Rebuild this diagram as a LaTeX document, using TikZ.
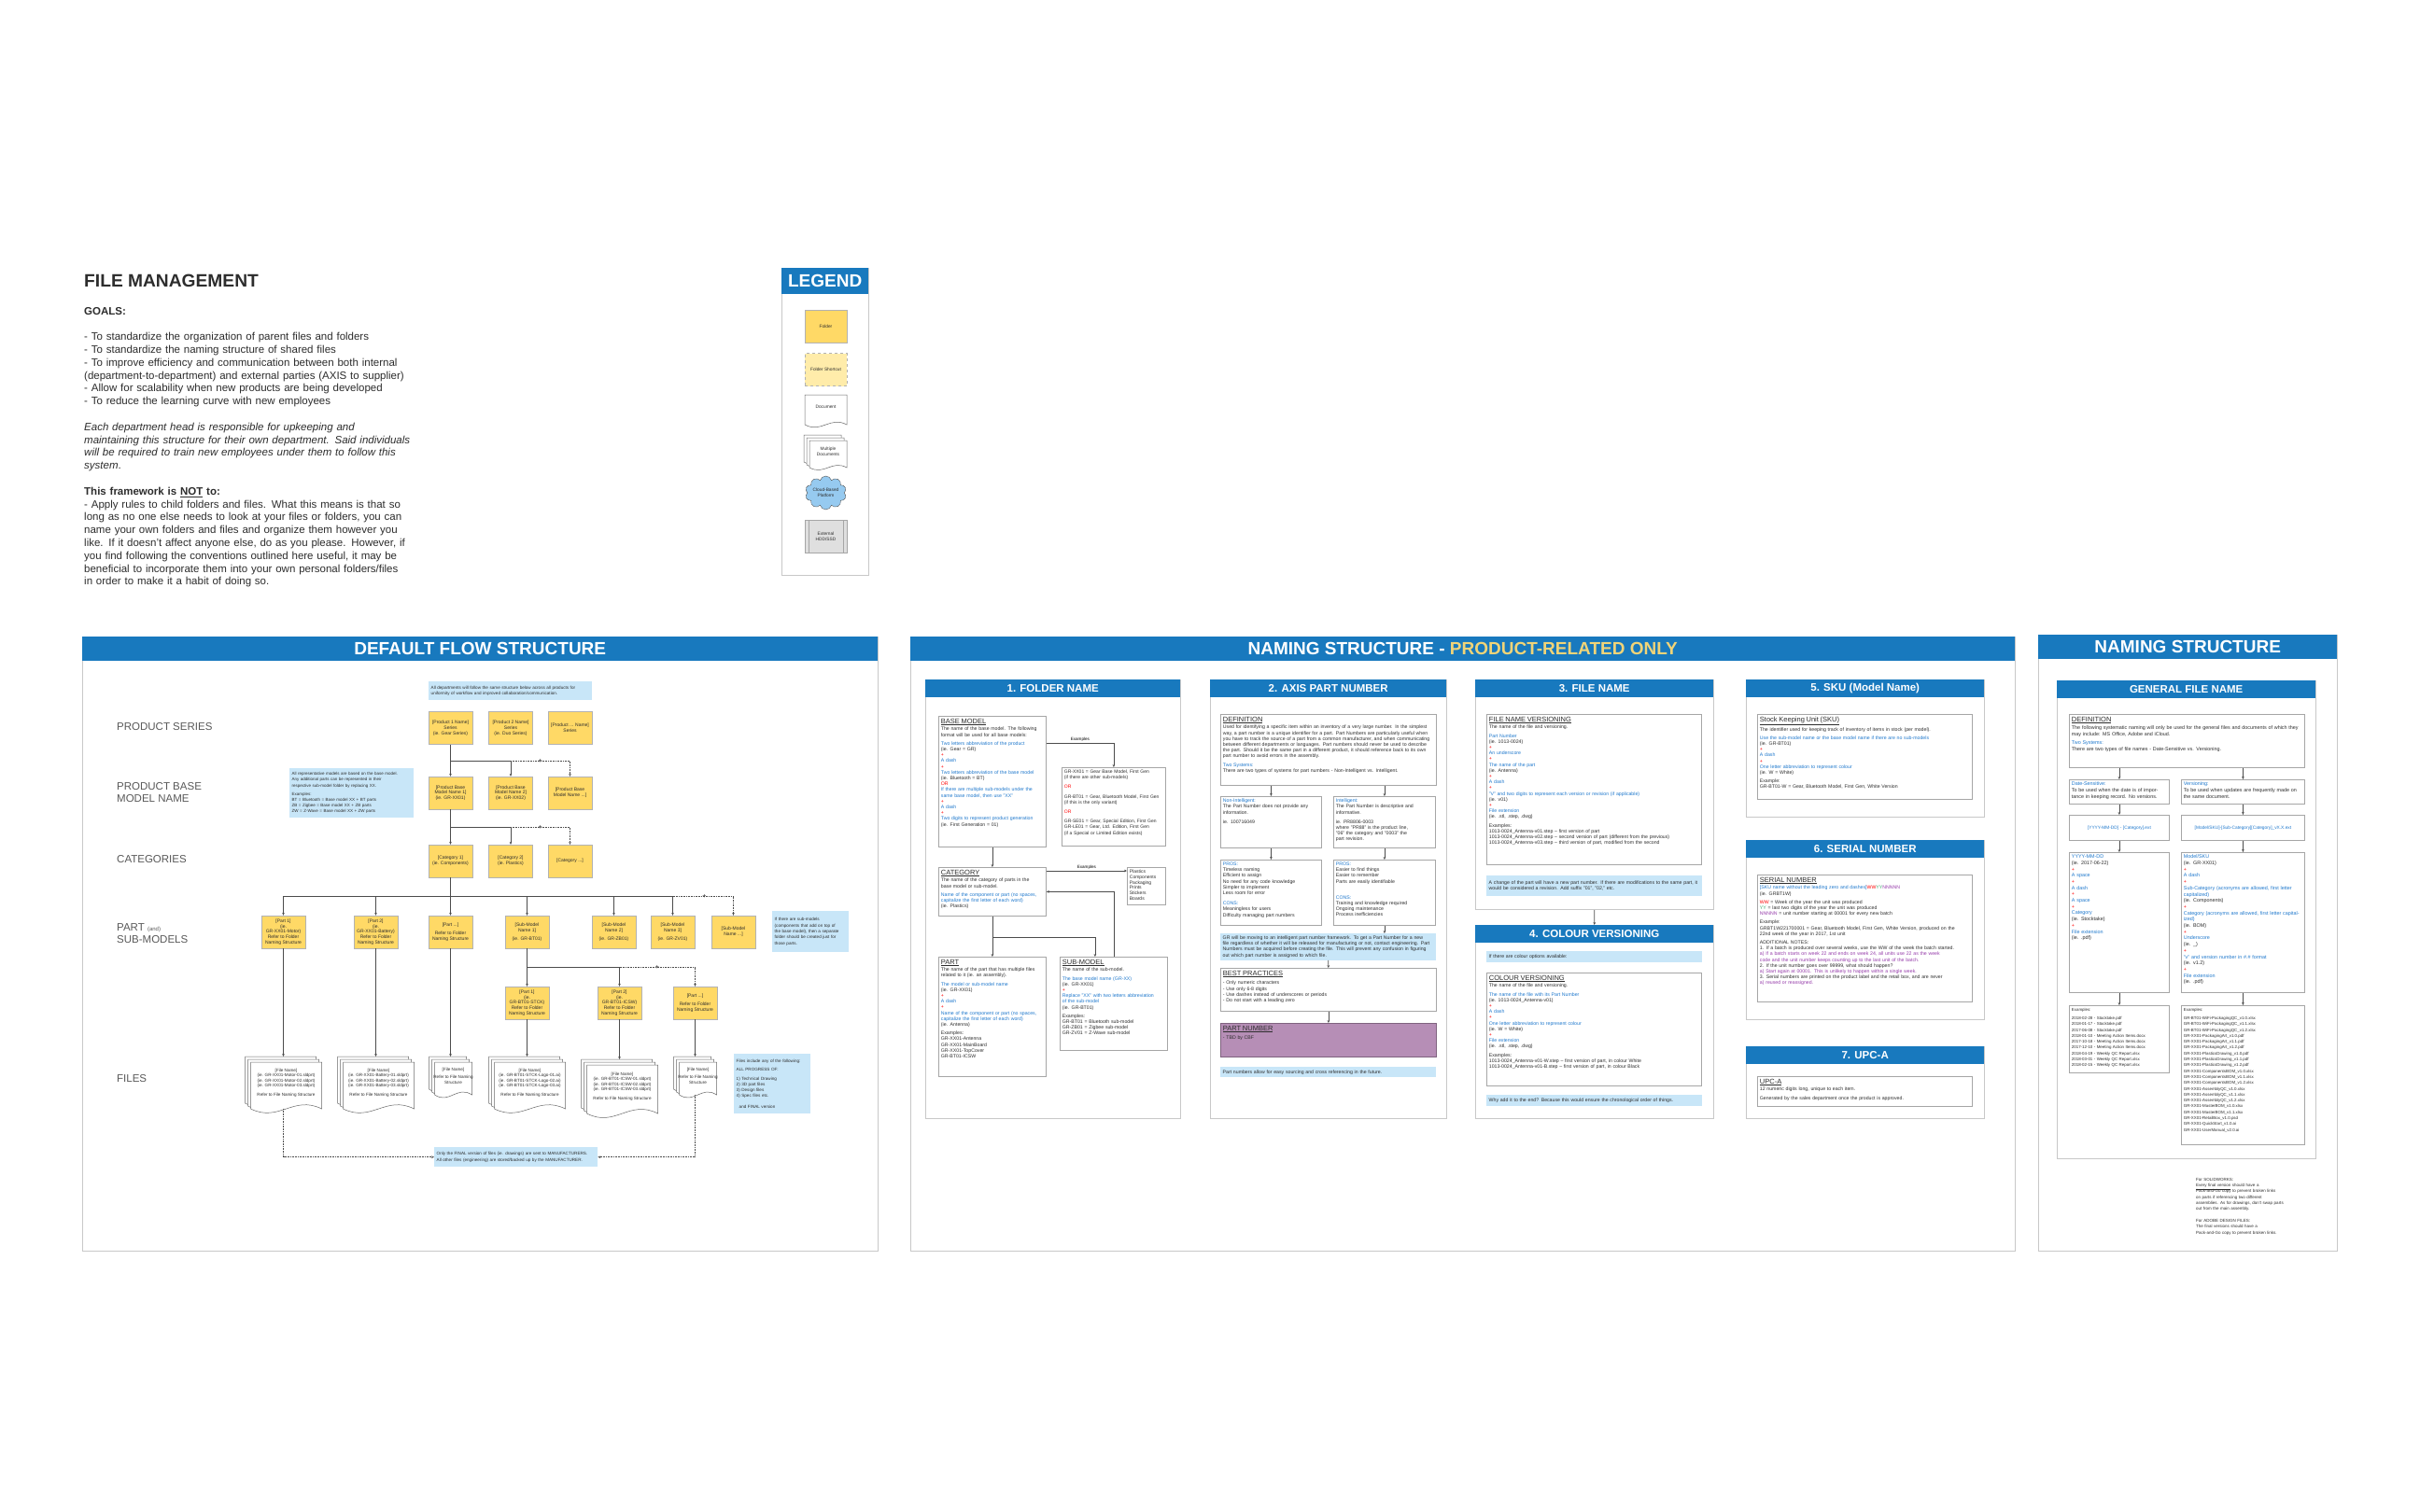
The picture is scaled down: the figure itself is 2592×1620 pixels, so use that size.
\documentclass[tikz,border=0pt]{standalone}
\usepackage{fontspec}
\setmainfont{Liberation Sans}
\usetikzlibrary{arrows.meta, positioning, calc, shapes.symbols}

\definecolor{hdrblue}{RGB}{24,121,190}
\definecolor{noteblue}{RGB}{200,230,248}
\definecolor{folderyellow}{RGB}{255,217,102}
\definecolor{shortyellow}{RGB}{255,236,170}
\definecolor{cloudblue}{RGB}{150,202,240}
\definecolor{txtblue}{RGB}{30,120,205}
\definecolor{txtgreen}{RGB}{60,170,110}
\definecolor{txtpurple}{RGB}{150,60,170}
\definecolor{titleyellow}{RGB}{240,212,120}
\definecolor{pnpurple}{RGB}{182,142,182}
\definecolor{framegray}{RGB}{200,200,200}
\definecolor{darktext}{RGB}{45,45,45}

\newcommand{\ft}{\fontsize{5.2}{6.2}\selectfont}
\newcommand{\ftr}{\fontsize{5.4}{6.7}\selectfont}
\newcommand{\ftn}{\fontsize{4.6}{6.3}\selectfont}
\newcommand{\tblue}[1]{\textcolor{txtblue}{#1}}
\newcommand{\tred}[1]{\textcolor{red}{#1}}
\newcommand{\tgreen}[1]{\textcolor{txtgreen}{#1}}
\newcommand{\tpurple}[1]{\textcolor{txtpurple}{#1}}
\newcommand{\boxhd}[1]{{\fontsize{7.5}{8}\selectfont\underline{#1}\par}\vspace{1.5pt}}
\newcommand{\topbox}[2]{\vbox to #1pt{#2\vfil}}

% document outline: x, y (top left), width, height
\newcommand{\docshape}[4]{%
  \draw[docline] (#1,#2) -- (#1+#3,#2) -- (#1+#3,#2+#4)
    .. controls +(-0.4*#3,-0.3*#4) and +(0.4*#3,0.3*#4) .. (#1,#2+#4) -- cycle;}
% stack of documents: name, centre x, top y, width, height
\newcommand{\multidoc}[5]{%
  \docshape{#2-3-#4/2}{#3}{#4}{#5}
  \docshape{#2-#4/2}{#3+3}{#4}{#5}
  \docshape{#2+3-#4/2}{#3+6}{#4}{#5}
  \coordinate (#1-top) at (#2,#3);
  \coordinate (#1-bot) at (#2,#3+#5+6);
  \coordinate (#1-mid) at (#2+3,#3+3+#5/2);}

\tikzset{
  panel/.style={draw=framegray, fill=white, line width=1pt, anchor=north west, inner sep=0pt},
  bandhead/.style={fill=hdrblue, text=white, anchor=north west, inner sep=0pt, font=\bfseries\fontsize{19}{19}\selectfont},
  subhead/.style={fill=hdrblue, text=white, anchor=north west, inner sep=0pt, minimum height=19pt, font=\bfseries\fontsize{11.5}{11.5}\selectfont},
  infobox/.style={draw=gray!70, fill=white, line width=0.8pt, anchor=north west, align=left, inner sep=2.5pt, font=\ft, text=darktext},
  note/.style={fill=noteblue, anchor=north west, align=left, inner sep=2.5pt, font=\ft, text=darktext},
  folder/.style={draw=gray!60, fill=folderyellow, minimum width=47pt, minimum height=35pt, inner sep=1pt, align=center, text=darktext, font=\fontsize{5}{5.8}\selectfont},
  shortcut/.style={folder, fill=shortyellow, dashed},
  rowlabel/.style={anchor=west, align=left, inner sep=0pt, text=black!65, font=\fontsize{11.5}{13.5}\selectfont},
  link/.style={draw=black!70, line width=0.6pt, -{Stealth[length=3pt,width=2.6pt]}},
  more/.style={densely dotted},
  docline/.style={draw=black!60, fill=white, line width=0.5pt},
  doctext/.style={align=center, inner sep=0pt, text=darktext, font=\fontsize{4.6}{5.6}\selectfont},
  plus/.style={inner sep=0pt, text=darktext, font=\fontsize{7}{7}\selectfont},
  legendtext/.style={font=\fontsize{4.8}{5.6}\selectfont, align=center, text=darktext}
}

\begin{document}
\begin{tikzpicture}[x=1pt, y=-1pt]
\fill[white] (0,0) rectangle (2592,1620);
\useasboundingbox (0,0) rectangle (2592,1620);

% introduction
\node[anchor=base west, inner sep=0pt, text=darktext, font=\bfseries\fontsize{19.2}{20}\selectfont] (fmtitle) at (90,307) {FILE MANAGEMENT};
\node[anchor=base west, inner sep=0pt, text width=400pt, align=left, text=darktext, font=\fontsize{11.5}{13.8}\selectfont] (fmtext) at (90,337) {\textbf{GOALS:}\\[13.8pt]
- To standardize the organization of parent files and folders\\
- To standardize the naming structure of shared files\\
- To improve efficiency and communication between both internal\\
(department-to-department) and external parties (AXIS to supplier)\\
- Allow for scalability when new products are being developed\\
- To reduce the learning curve with new employees\\[13.8pt]
\textit{Each department head is responsible for upkeeping and}\\
\textit{maintaining this structure for their own department. Said individuals}\\
\textit{will be required to train new employees under them to follow this}\\
\textit{system}.\\[13.8pt]
\textbf{This framework is \underline{NOT} to:}\\
- Apply rules to child folders and files. What this means is that so\\
long as no one else needs to look at your files or folders, you can\\
name your own folders and files and organize them however you\\
like. If it doesn't affect anyone else, do as you please. However, if\\
you find following the conventions outlined here useful, it may be\\
beneficial to incorporate them into your own personal folders/files\\
in order to make it a habit of doing so.};

% legend
\node[panel, minimum width=93pt, minimum height=329pt] (legend) at (837,287) {};
\node[bandhead, minimum width=93pt, minimum height=28pt] (legendhead) at (837,287) {LEGEND};
\node[folder, minimum width=45pt, legendtext] (lgfolder) at (884.5,350) {Folder};
\node[shortcut, minimum width=45pt, legendtext] (lgshort) at (884.5,396) {Folder Shortcut};
\docshape{862}{423}{45}{32}
\node[legendtext] (lgdoc) at (884.5,436) {Document};
\multidoc{lgm}{884}{466}{40}{29}
\node[legendtext] (lgmulti) at (lgm-mid) {Multiple\\Documents};
\node[cloud, cloud puffs=10, aspect=1.4, draw=gray!70!black, fill=cloudblue, minimum width=44pt, minimum height=32pt, inner sep=0pt, legendtext] (lgcloud) at (884.5,528) {Cloud-Based\\Platform};
\node[draw=gray!70, fill=gray!25, minimum width=45pt, minimum height=35pt, inner sep=0pt, legendtext] (lgext) at (884.5,575) {External\\HDD/SSD};
\draw[gray!70] ($(lgext.north west)+(4,0)$) -- ($(lgext.south west)+(4,0)$);
\draw[gray!70] ($(lgext.north east)+(-4,0)$) -- ($(lgext.south east)+(-4,0)$);

% default flow structure
\node[panel, minimum width=852pt, minimum height=658pt] (flowpanel) at (88,682) {};
\node[bandhead, minimum width=852pt, minimum height=26pt] (flowhead) at (88,682) {DEFAULT FLOW STRUCTURE};

\node[rowlabel] (lbseries) at (125,779) {PRODUCT SERIES};
\node[rowlabel] (lbbase) at (125,849) {PRODUCT BASE\\MODEL NAME};
\node[rowlabel] (lbcat) at (125,921) {CATEGORIES};
\node[rowlabel] (lbpart) at (125,1000) {PART {\fontsize{6}{6}\selectfont(and)}\\SUB-MODELS};
\node[rowlabel] (lbfiles) at (125,1156) {FILES};

\node[note, text width=170pt, minimum height=20pt, font=\ftn] (topnote) at (459,730) {All departments will follow the same structure below across all products for\\ uniformity of workflow and improved collaboration/communication.};
\node[note, text width=128pt, minimum height=53pt, font=\fontsize{4.5}{6.2}\selectfont] (leftnote) at (310,823) {All representative models are based on the base model.\\ Any additional parts can be represented in their\\ respective sub-model folder by replacing XX.\\[3pt] Examples:\\ BT = Bluetooth = Base model XX + BT parts\\ ZB = Zigbee = Base model XX + ZB parts\\ ZW = Z-Wave = Base model XX + ZW parts};
\node[note, text width=77pt, minimum height=44pt, font=\ftn] (rightnote) at (827,976) {If there are sub-models\\ (components that add on top of\\ the base model), then a separate\\ folder should be created just for\\ those parts.};
\node[note, text width=77pt, minimum height=64pt, font=\ftn] (filenote) at (786,1129) {Files include any of the following:\\[3pt] ALL PROGRESS OF:\\[3pt] 1) Technical Drawing\\ 2) 3D part files\\ 3) Design files\\ 4) Spec files etc.\\[5pt] \hspace*{3pt}and FINAL version};
\node[note, text width=170pt, minimum height=21pt, font=\ftn] (bottomnote) at (465,1229) {Only the FINAL version of files (ie. drawings) are sent to MANUFACTURERS.\\ All other files (engineering) are stored/backed up by the MANUFACTURER.};

\node[folder] (ps1) at (482.5,780) {[Product 1 Name]\\Series\\(ie. Gear Series)};
\node[folder] (ps2) at (547,780) {[Product 2 Name]\\Series\\(ie. Duo Series)};
\node[folder] (ps3) at (610.5,780) {[Product ... Name]\\Series};
\node[folder] (bm1) at (482.5,849.5) {[Product Base\\Model Name 1]\\(ie. GR-XX01)};
\node[folder] (bm2) at (547,849.5) {[Product Base\\Model Name 2]\\(ie. GR-XX02)};
\node[folder] (bm3) at (610.5,849.5) {[Product Base\\Model Name ...]};
\node[folder] (ct1) at (482.5,922.5) {[Category 1]\\(ie. Components)};
\node[folder] (ct2) at (547,922.5) {[Category 2]\\(ie. Plastics)};
\node[folder] (ct3) at (610.5,922.5) {[Category ...]};
\node[folder] (pt1) at (303.5,998.5) {[Part 1]\\(ie.\\GR-XX01-Motor)\\Refer to Folder\\Naming Structure};
\node[folder] (pt2) at (402.5,998.5) {[Part 2]\\(ie.\\GR-XX01-Battery)\\Refer to Folder\\Naming Structure};
\node[folder] (pt3) at (482.5,998.5) {[Part ...]\\[3pt]Refer to Folder\\Naming Structure};
\node[folder] (pt4) at (564.5,998.5) {[Sub-Model\\Name 1]\\[3pt](ie. GR-BT01)};
\node[folder] (pt5) at (657.5,998.5) {[Sub-Model\\Name 2]\\[3pt](ie. GR-ZB01)};
\node[folder] (pt6) at (720.5,998.5) {[Sub-Model\\Name 3]\\[3pt](ie. GR-ZV01)};
\node[folder] (pt7) at (785.5,998.5) {[Sub-Model\\Name ...]};
\node[folder] (sp1) at (564.5,1074.5) {[Part 1]\\(ie.\\GR-BT01-STCK)\\Refer to Folder\\Naming Structure};
\node[folder] (sp2) at (663.5,1074.5) {[Part 2]\\(ie.\\GR-BT01-ICSW)\\Refer to Folder\\Naming Structure};
\node[folder] (sp3) at (744.5,1074.5) {[Part ...]\\[3pt]Refer to Folder\\Naming Structure};

\coordinate (j1) at (482.5,815);
\coordinate (j2) at (482.5,886);
\coordinate (j3) at (482.5,960);
\coordinate (j4) at (564.5,1036);
\draw[link] (ps1) -- (bm1);
\draw[link] (j1) -| (bm2);
\draw[link, more] (j1 -| bm2) -| (bm3) node[pos=0.25, plus] {+};
\draw[link] (bm1) -- (ct1);
\draw[link] (j2) -| (ct2);
\draw[link, more] (j2 -| ct2) -| (ct3) node[pos=0.25, plus] {+};
\draw[link] (ct1) -- (pt3);
\foreach \p in {pt1,pt2,pt4,pt5,pt6}
  \draw[link] (j3) -| (\p);
\draw[link, more] (j3 -| pt6) -| (pt7) node[pos=0.26, plus] {+};
\draw[link] (pt4) -- (sp1);
\draw[link] (j4) -| (sp2);
\draw[link, more] (j4 -| sp2) -| (sp3) node[pos=0.25, plus] {+};

\multidoc{f1}{303.5}{1132}{76}{50}
\multidoc{f2}{402.5}{1132}{76}{50}
\multidoc{f3}{482.5}{1132}{40}{35}
\multidoc{f4}{564.5}{1132}{76}{50}
\multidoc{f5}{663.5}{1135}{76}{52}
\multidoc{f6}{744.5}{1132}{40}{35}
\node[doctext] (file1) at (f1-mid) {[File Name]\\(ie. GR-XX01-Motor-01.sldprt)\\(ie. GR-XX01-Motor-02.sldprt)\\(ie. GR-XX01-Motor-03.sldprt)\\[4pt]Refer to File Naming Structure};
\node[doctext] (file2) at (f2-mid) {[File Name]\\(ie. GR-XX01-Battery-01.sldprt)\\(ie. GR-XX01-Battery-02.sldprt)\\(ie. GR-XX01-Battery-03.sldprt)\\[4pt]Refer to File Naming Structure};
\node[doctext] (file3) at (f3-mid) {[File Name]\\[3pt]Refer to File Naming\\Structure};
\node[doctext] (file4) at (f4-mid) {[File Name]\\(ie. GR-BT01-STCK-Logo-01.ai)\\(ie. GR-BT01-STCK-Logo-02.ai)\\(ie. GR-BT01-STCK-Logo-03.ai)\\[4pt]Refer to File Naming Structure};
\node[doctext] (file5) at (f5-mid) {[File Name]\\(ie. GR-BT01-ICSW-01.sldprt)\\(ie. GR-BT01-ICSW-02.sldprt)\\(ie. GR-BT01-ICSW-03.sldprt)\\[4pt]Refer to File Naming Structure};
\node[doctext] (file6) at (f6-mid) {[File Name]\\[3pt]Refer to File Naming\\Structure};
\foreach \p/\f in {pt1/f1,pt2/f2,pt3/f3,sp1/f4,sp2/f5,sp3/f6}
  \draw[link] (\p) -- (\f-top);
\draw[link, more] (f1-bot) |- (bottomnote.west);
\draw[link, more] (f6-bot) |- (bottomnote.east);

% naming structure, product related
\node[panel, minimum width=1183pt, minimum height=658pt] (namepanel) at (975,682) {};
\node[bandhead, minimum width=1183pt, minimum height=26pt] (namehead) at (975,682) {NAMING STRUCTURE - \textcolor{titleyellow}{PRODUCT-RELATED ONLY}};

\node[panel, minimum width=273pt, minimum height=470pt] (p1) at (991,728) {};
\node[subhead, minimum width=273pt] (p1h) at (991,728) {1. FOLDER NAME};
\node[panel, minimum width=253pt, minimum height=470pt] (p2) at (1296,728) {};
\node[subhead, minimum width=253pt] (p2h) at (1296,728) {2. AXIS PART NUMBER};
\node[panel, minimum width=255pt, minimum height=246pt] (p3) at (1580,728) {};
\node[subhead, minimum width=255pt] (p3h) at (1580,728) {3. FILE NAME};
\node[panel, minimum width=255pt, minimum height=207pt] (p4) at (1580,991) {};
\node[subhead, minimum width=255pt] (p4h) at (1580,991) {4. COLOUR VERSIONING};
\node[panel, minimum width=255pt, minimum height=147pt] (p5) at (1870,728) {};
\node[subhead, minimum width=255pt] (p5h) at (1870,728) {5. SKU (Model Name)};
\node[panel, minimum width=255pt, minimum height=192pt] (p6) at (1870,900) {};
\node[subhead, minimum width=255pt] (p6h) at (1870,900) {6. SERIAL NUMBER};
\node[panel, minimum width=255pt, minimum height=77pt] (p7) at (1870,1121) {};
\node[subhead, minimum width=255pt] (p7h) at (1870,1121) {7. UPC-A};
\draw[link] (p3) -- (p4h);

% 1. folder name
\node[infobox, text width=110pt] (basemodel) at (1005,767) {\topbox{135}{\boxhd{BASE MODEL}
The name of the base model. The following\\ format will be used for all base models:\\[3pt]
\tblue{Two letters abbreviation of the product}\\ (ie. Gear = GR)\\ \tred{+}\\ \tblue{A dash}\\ \tred{+}\\
\tblue{Two letters abbreviation of the base model}\\ (ie. Bluetooth = BT)\\ \tred{OR}\\
\tblue{If there are multiple sub-models under the}\\ \tblue{same base model, then use "XX"}\\ \tred{+}\\ \tblue{A dash}\\ \tred{+}\\
\tblue{Two digits to represent product generation}\\ (ie. First Generation = 01)}};
\node[infobox, text width=106pt, font=\fontsize{5}{6.2}\selectfont] (ex1) at (1137,822) {\topbox{79}{GR-XX01 = Gear Base Model, First Gen\\ (if there are other sub-models)\\[4pt] \tred{OR}\\[4pt]
GR-BT01 = Gear, Bluetooth Model, First Gen\\ (if this is the only variant)\\[4pt] \tred{OR}\\[4pt]
GR-SE01 = Gear, Special Edition, First Gen\\ GR-LE01 = Gear, Ltd. Edition, First Gen\\ (if a Special or Limited Edition exists)}};
\node[infobox, text width=110pt] (category) at (1005,929) {\topbox{47}{\boxhd{CATEGORY}
The name of the category of parts in the\\ base model or sub-model.\\[3pt]
\tblue{Name of the component or part (no spaces,}\\ \tblue{capitalize the first letter of each word)}\\ (ie. Plastics)}};
\node[infobox, text width=36pt, font=\fontsize{5}{5.8}\selectfont] (catlist) at (1207,929) {\topbox{35}{Plastics\\ Components\\ Packaging\\ Prints\\ Stickers\\ Boards}};
\node[infobox, text width=110pt] (part) at (1005,1025) {\topbox{123}{\boxhd{PART}
The name of the part that has multiple files\\ related to it (ie. an assembly).\\[3pt]
\tblue{The model or sub-model name}\\ (ie. GR-XX01)\\ \tred{+}\\ \tblue{A dash}\\ \tred{+}\\
\tblue{Name of the component or part (no spaces,}\\ \tblue{capitalize the first letter of each word)}\\ (ie. Antenna)\\[3pt]
Examples:\\ GR-XX01-Antenna\\ GR-XX01-MainBoard\\ GR-XX01-TopCover\\ GR-BT01-ICSW}};
\node[infobox, text width=110pt] (submodel) at (1135,1025) {\topbox{95}{\boxhd{SUB-MODEL}
The name of the sub-model.\\[3pt]
\tblue{The base model name (GR-XX)}\\ (ie. GR-XX01)\\ \tred{+}\\
\tblue{Replace "XX" with two letters abbreviation}\\ \tblue{of the sub-model}\\ (ie. GR-BT01)\\[3pt]
Examples:\\ GR-BT01 = Bluetooth sub-model\\ GR-ZB01 = Zigbee sub-model\\ GR-ZV01 = Z-Wave sub-model}};
\draw[link] (basemodel) -- (category);
\draw[link] ($(basemodel.north east)+(0,29)$) -| (ex1.north) node[pos=0.25, above=0.3pt, inner sep=0.5pt, font=\ftn] {Examples};
\draw[link] ($(category.north east)+(0,4)$) -- ($(catlist.north west)+(0,4)$) node[midway, above=0.3pt, inner sep=0.5pt, font=\ftn] {Examples};
\draw[link] (submodel.north) |- (category.east);
\draw[link] (category.south) -- (part.north);
\draw[link] ($(category.south)+(0,22)$) -| ($(submodel.north)+(-20,0)$);

% 2. axis part number
\node[infobox, text width=226pt] (definition) at (1307,765) {\topbox{71}{\boxhd{DEFINITION}
Used for identifying a specific item within an inventory of a very large number. In the simplest way, a part number is a unique identifier for a part. Part Numbers are particularly useful when you have to track the source of a part from a common manufacturer, and when communicating between different departments or languages. Part numbers should never be used to describe the part. Should it be the same part in a different product, it should reference back to its own part number to avoid errors in the assembly.\\[3pt]
\tblue{Two Systems:}\\ There are two types of systems for part numbers - Non-Intelligent vs. Intelligent.}};
\node[infobox, text width=103pt] (nonint) at (1307,853) {\topbox{50}{\tblue{Non-Intelligent:}\\ The Part Number does not provide any\\ information.\\[4pt] ie. 100716049}};
\node[infobox, text width=104pt] (intel) at (1428,853) {\topbox{50}{\tblue{Intelligent:}\\ The Part Number is descriptive and\\ informative.\\[4pt] ie. PR8806-0003\\ where "PR88" is the product line,\\ "06" the category and "0003" the\\ part revision.}};
\node[infobox, text width=103pt] (pros1) at (1307,921) {\topbox{65}{\tblue{PROS:}\\ Timeless naming\\ Efficient to assign\\ No need for any code knowledge\\ Simpler to implement\\ Less room for error\\[5pt] \tblue{CONS:}\\ Meaningless for users\\ Difficulty managing part numbers}};
\node[infobox, text width=104pt] (pros2) at (1428,921) {\topbox{65}{\tblue{PROS:}\\ Easier to find things\\ Easier to remember\\ Parts are easily identifiable\\[11pt] \tblue{CONS:}\\ Training and knowledge required\\ Ongoing maintenance\\ Process inefficiencies}};
\node[note, text width=226pt, minimum height=27pt] (note2) at (1307,1000) {GR will be moving to an intelligent part number framework. To get a Part Number for a new file regardless of whether it will be released for manufacturing or not, contact engineering. Part Numbers must be acquired before creating the file. This will prevent any confusion in figuring out which part number is assigned to which file.};
\node[infobox, text width=226pt] (best) at (1307,1037) {\topbox{41}{\boxhd{BEST PRACTICES}\vspace{2pt}
- Only numeric characters\\ - Use only 6-8 digits\\ - Use dashes instead of underscores or periods\\ - Do not start with a leading zero}};
\node[infobox, text width=226pt, fill=pnpurple, draw=pnpurple!70!black] (pnum) at (1307,1096) {\topbox{31}{\boxhd{PART NUMBER}\vspace{2pt} - TBD by CBF}};
\node[note, text width=226pt, minimum height=11pt] (note3) at (1307,1143) {Part numbers allow for easy sourcing and cross referencing in the future.};
\draw[link] (nonint.north |- definition.south) -- (nonint);
\draw[link] (intel.north |- definition.south) -- (intel);
\draw[link] (nonint) -- (pros1);
\draw[link] (intel) -- (pros2);
\draw[link] (pros2.south) -- (pros2.south |- note2.north);
\draw[link] (note2) -- (best);
\draw[link] (best) -- (pnum);

% 3. file name
\node[infobox, text width=225pt] (fnv) at (1592,765) {\topbox{156}{\boxhd{FILE NAME VERSIONING}
The name of the file and versioning.\\[3pt]
\tblue{Part Number}\\ (ie. 1013-0024)\\ \tred{+}\\ \tblue{An underscore}\\ \tred{+}\\ \tblue{The name of the part}\\ (ie. Antenna)\\ \tred{+}\\ \tblue{A dash}\\ \tred{+}\\
\tblue{"V" and two digits to represent each version or revision (if applicable)}\\ (ie. v01)\\ \tred{+}\\
\tblue{File extension}\\ (ie. .stl, .step, .dwg)\\[3pt]
Examples:\\ 1013-0024\_Antenna-v01.step -- first version of part\\
1013-0024\_Antenna-v02.step -- second version of part (different from the previous)\\
1013-0024\_Antenna-v03.step -- third version of part, modified from the second}};
\node[note, text width=226pt, minimum height=22pt] (note4) at (1592,938) {A change of the part will have a new part number. If there are modifications to the same part, it would be considered a revision. Add suffix "01", "02," etc.};

% 4. colour versioning
\node[note, text width=226pt, minimum height=12pt] (note5) at (1592,1019) {If there are colour options available:};
\node[infobox, text width=225pt] (cv) at (1592,1042) {\topbox{116}{\boxhd{COLOUR VERSIONING}
The name of the file and versioning.\\[3pt]
\tblue{The name of the file with its Part Number}\\ (ie. 1013-0024\_Antenna-v01)\\ \tred{+}\\ \tblue{A dash}\\ \tred{+}\\
\tblue{One letter abbreviation to represent colour}\\ (ie. W = White)\\ \tred{+}\\ \tblue{File extension}\\ (ie. .stl, .step, .dwg)\\[3pt]
Examples:\\ 1013-0024\_Antenna-v01-W.step -- first version of part, in colour White\\
1013-0024\_Antenna-v01-B.step -- first version of part, in colour Black}};
\node[note, text width=226pt, minimum height=12pt] (note6) at (1592,1173) {Why add it to the end? Because this would ensure the chronological order of things.};

% 5. sku
\node[infobox, text width=225pt] (sku) at (1882,765) {\topbox{86}{\boxhd{Stock Keeping Unit (SKU)}
The identifier used for keeping track of inventory of items in stock (per model).\\[3pt]
\tblue{Use the sub-model name or the base model name if there are no sub-models}\\ (ie. GR-BT01)\\ \tred{+}\\ \tblue{A dash}\\ \tred{+}\\
\tblue{One letter abbreviation to represent colour}\\ (ie. W = White)\\[3pt]
Example:\\ GR-BT01-W = Gear, Bluetooth Model, First Gen, White Version}};

% 6. serial number
\node[infobox, text width=225pt] (serial) at (1882,937) {\topbox{131}{\boxhd{SERIAL NUMBER}
\tblue{[SKU name without the leading zero and dashes]}\tred{WW}\tgreen{YY}\tpurple{NNNNN}\\ (ie. GRBT1W)\\[3pt]
\tred{WW} = Week of the year the unit was produced\\ \tgreen{YY} = last two digits of the year the unit was produced\\ \tpurple{NNNNN} = unit number starting at 00001 for every new batch\\[3pt]
Example:\\ GRBT1W221700001 = Gear, Bluetooth Model, First Gen, White Version, produced on the\\ 22nd week of the year in 2017, 1st unit\\[3pt]
ADDITIONAL NOTES:\\
1. If a batch is produced over several weeks, use the WW of the week the batch started.\\
\tpurple{a) If a batch starts on week 22 and ends on week 24, all units use 22 as the week}\\
\tpurple{code and the unit number keeps counting up to the last unit of the batch.}\\
2. If the unit number goes over 99999, what should happen?\\
\tpurple{a) Start again at 00001. This is unlikely to happen within a single week.}\\
3. Serial numbers are printed on the product label and the retail box, and are never\\
\tpurple{a) reused or reassigned.}}};

% 7. upc-a
\node[infobox, text width=225pt] (upc) at (1882,1153) {\topbox{27}{\boxhd{UPC-A}
12 numeric digits long, unique to each item.\\[3pt]
Generated by the sales department once the product is approved.}};

% naming structure, general
\node[panel, minimum width=320pt, minimum height=660pt] (genpanel) at (2183,680) {};
\node[bandhead, minimum width=320pt, minimum height=26pt] (genhead) at (2183,680) {NAMING STRUCTURE};
\node[panel, minimum width=277pt, minimum height=512pt] (g1) at (2203,729) {};
\node[subhead, minimum width=277pt] (g1h) at (2203,729) {GENERAL FILE NAME};

\node[infobox, text width=247pt, font=\ftr] (gdef) at (2216,765) {\topbox{52}{\boxhd{DEFINITION}
The following systematic naming will only be used for the general files and documents of which they may include: MS Office, Adobe and iCloud.\\[3pt]
\tblue{Two Systems:}\\ There are two types of file names - Date-Sensitive vs. Versioning.}};
\node[infobox, text width=102pt, font=\ftr] (dsen) at (2216,835) {\topbox{21}{\tblue{Date-Sensitive:}\\ To be used when the date is of importance in keeping record. No versions.}};
\node[infobox, text width=127pt, font=\ftr] (vers) at (2336,835) {\topbox{21}{\tblue{Versioning:}\\ To be used when updates are frequently made on the same document.}};
\node[infobox, align=center, text width=102pt, minimum height=27pt, font=\fontsize{4.8}{6}\selectfont] (fmt1) at (2216,873) {\tblue{[YYYY-MM-DD] - [Category].ext}};
\node[infobox, align=center, text width=127pt, minimum height=27pt, font=\fontsize{4.8}{6}\selectfont] (fmt2) at (2336,873) {\tblue{[Model/SKU]-[Sub-Category][Category]\_vX.X.ext}};
\node[infobox, text width=102pt, font=\ftr] (brk1) at (2216,913) {\topbox{145}{\tblue{YYYY-MM-DD}\\ (ie. 2017-06-22)\\ \tred{+}\\ \tblue{A space}\\ \tred{+}\\ \tblue{A dash}\\ \tred{+}\\ \tblue{A space}\\ \tred{+}\\ \tblue{Category}\\ (ie. Stocktake)\\ \tred{+}\\ \tblue{File extension}\\ (ie. .pdf)}};
\node[infobox, text width=127pt, font=\ftr] (brk2) at (2336,913) {\topbox{145}{\tblue{Model/SKU}\\ (ie. GR-XX01)\\ \tred{+}\\ \tblue{A dash}\\ \tred{+}\\
\tblue{Sub-Category (acronyms are allowed, first letter capitalized)}\\ (ie. Components)\\ \tred{+}\\
\tblue{Category (acronyms are allowed, first letter capitalized)}\\ (ie. BOM)\\ \tred{+}\\
\tblue{Underscore}\\ (ie. \_)\\ \tred{+}\\ \tblue{"v" and version number in \#.\# format}\\ (ie. v1.2)\\ \tred{+}\\ \tblue{File extension}\\ (ie. .pdf)}};
\node[infobox, text width=102pt, font=\fontsize{4.4}{6.3}\selectfont] (exa1) at (2216,1077) {\topbox{67}{Examples:\\[3pt]
2018-02-28 - Stocktake.pdf\\ 2018-01-17 - Stocktake.pdf\\ 2017-06-08 - Stocktake.pdf\\
2018-01-10 - Meeting Action Items.docx\\ 2017-10-18 - Meeting Action Items.docx\\ 2017-12-10 - Meeting Action Items.docx\\
2018-04-19 - Weekly QC Report.xlsx\\ 2018-03-01 - Weekly QC Report.xlsx\\ 2018-02-15 - Weekly QC Report.xlsx}};
\node[infobox, text width=127pt, font=\fontsize{4.4}{6.3}\selectfont] (exa2) at (2336,1077) {\topbox{144}{Examples:\\[3pt]
GR-BT01-WiFi-PackagingQC\_v1.0.xlsx\\ GR-BT01-WiFi-PackagingQC\_v1.1.xlsx\\ GR-BT01-WiFi-PackagingQC\_v1.2.xlsx\\
GR-XX01-PackagingArt\_v1.0.pdf\\ GR-XX01-PackagingArt\_v1.1.pdf\\ GR-XX01-PackagingArt\_v1.2.pdf\\
GR-XX01-PlasticsDrawing\_v1.0.pdf\\ GR-XX01-PlasticsDrawing\_v1.1.pdf\\ GR-XX01-PlasticsDrawing\_v1.2.pdf\\
GR-XX01-ComponentsBOM\_v1.0.xlsx\\ GR-XX01-ComponentsBOM\_v1.1.xlsx\\ GR-XX01-ComponentsBOM\_v1.2.xlsx\\
GR-XX01-AssemblyQC\_v1.0.xlsx\\ GR-XX01-AssemblyQC\_v1.1.xlsx\\ GR-XX01-AssemblyQC\_v1.2.xlsx\\
GR-XX01-MasterBOM\_v1.0.xlsx\\ GR-XX01-MasterBOM\_v1.1.xlsx\\ GR-XX01-RetailBox\_v1.0.psd\\
GR-XX01-QuickStart\_v1.0.ai\\ GR-XX01-UserManual\_v2.0.ai}};
\foreach \a/\b in {dsen/fmt1,fmt1/brk1,brk1/exa1,vers/fmt2,fmt2/brk2,brk2/exa2}
  \draw[link] (\a) -- (\b);
\draw[link] (dsen.north |- gdef.south) -- (dsen);
\draw[link] (vers.north |- gdef.south) -- (vers);

\node[anchor=north west, inner sep=0pt, text width=105pt, align=left, text=darktext, font=\fontsize{4.5}{6.3}\selectfont] (solidnote) at (2352,1262) {For SOLIDWORKS:\\ \underline{Every final version} should have a\\ Pack-and-Go copy to prevent broken links\\ on parts if referencing two different\\ assemblies. As for drawings, don't swap parts\\ out from the main assembly.\\[6.3pt] For ADOBE DESIGN FILES:\\ The final versions should have a\\ Pack-and-Go copy to prevent broken links.};
\end{tikzpicture}
\end{document}
